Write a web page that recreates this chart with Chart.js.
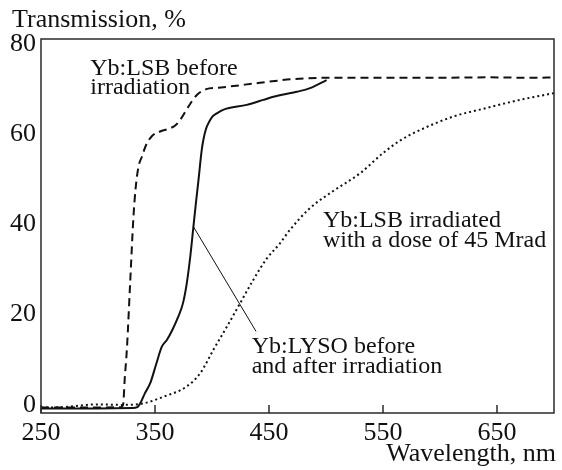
<!DOCTYPE html>
<html>
<head>
<meta charset="utf-8">
<script src="https://cdn.jsdelivr.net/npm/chart.js@4/dist/chart.umd.min.js"></script>
<style>
  body { margin: 0; background: #fff; }
  #chart { display: block; }
</style>
</head>
<body>
<canvas id="chart" width="562" height="470"></canvas>
<script>
// Yb:LSB before irradiation (dashed)
const lsbBeforeX = [250, 280, 300, 320, 322, 323.5, 325.3, 328.2, 331.1, 333, 335.5, 338.5, 342, 347, 354.5, 362, 368, 373, 379, 386.7, 395, 405, 413, 442, 471, 500, 530, 560, 600, 640, 680, 700];
const lsbBeforeY = [-0.6, -0.6, -0.6, -0.5, 0, 6, 12.2, 27, 41.7, 48, 52.8, 55, 57.5, 59.5, 60.6, 61.2, 62, 63.5, 66, 68.7, 70, 70.3, 70.5, 71.4, 72.2, 72.5, 72.5, 72.5, 72.5, 72.6, 72.5, 72.6];

// Yb:LYSO before and after irradiation (solid)
const lysoX = [250, 300, 330, 334.4, 338, 341, 345.8, 351, 356, 360.4, 365, 370.5, 374.5, 377.9, 381, 383.7, 386, 388, 391, 392.4, 394.5, 396.8, 400, 404.2, 409.7, 430.5, 445, 453.8, 474.3, 486, 500.5];
const lysoY = [-0.8, -0.8, -0.7, -0.5, 0.8, 2.5, 4.8, 9, 12.9, 14.4, 16.5, 19.6, 22.5, 27, 33, 39.5, 45, 49.5, 56.5, 58.7, 61, 62.4, 63.8, 64.6, 65.4, 66.5, 67.6, 68.3, 69.4, 70.2, 72];

// Yb:LSB irradiated with 45 Mrad (dotted)
const lsbIrrX = [250, 270, 290, 300, 320, 337, 357.4, 377.9, 389.6, 401.2, 413, 424.6, 436.2, 448, 459.6, 468.4, 485.9, 506.3, 529.7, 550, 565, 582.3, 611.5, 640.7, 669.9, 700];
const lsbIrrY = [-0.6, -0.5, 0, 0.1, 0, 0.2, 1.8, 4.1, 7, 12.2, 17.3, 22.5, 27.7, 32.4, 35.8, 38.8, 43.6, 47.4, 51.3, 55.8, 58.6, 60.9, 63.9, 65.8, 67.6, 69.1];

// leader line from the solid curve to its label
const leaderX = [383.7, 438.6];
const leaderY = [39.5, 16.3];

const xTickValues = [250, 350, 450, 550, 650];
const yTickValues = [0, 20, 40, 60, 80];

const serif = '"Liberation Serif", "Times New Roman", serif';
const ink = "#111";

function pts(xs, ys) {
    return xs.map((x, i) => ({ x: x, y: ys[i] }));
}

const decorPlugin = {
    id: "decor",
    afterDatasetsDraw(chart) {
        const c = chart.ctx;
        const a = chart.chartArea;
        const sx = chart.scales.x;
        const sy = chart.scales.y;
        c.save();
        // frame
        c.strokeStyle = "#2a2a2a";
        c.lineWidth = 1.5;
        c.strokeRect(a.left, a.top, a.right - a.left, a.bottom - a.top);
        // inward x ticks
        xTickValues.forEach(v => {
            const px = sx.getPixelForValue(v);
            c.beginPath();
            c.moveTo(px, a.bottom);
            c.lineTo(px, a.bottom - 8);
            c.stroke();
        });
        // texts
        c.fillStyle = ink;
        c.textBaseline = "alphabetic";
        c.font = "26px " + serif;
        c.textAlign = "left";
        c.fillText("Transmission, %", 12, 27);
        c.textAlign = "right";
        c.fillText("Wavelength, nm", 556, 461);

        c.font = "24px " + serif;
        c.textAlign = "left";
        const notes = [
            ["Yb:LSB before", 293.2, 73.1],
            ["irradiation", 293.2, 68.9],
            ["Yb:LSB irradiated", 497.3, 39.5],
            ["with a dose of 45 Mrad", 497.3, 35.1],
            ["Yb:LYSO before", 434.8, 11.5],
            ["and after irradiation", 434.8, 7.1]
        ];
        notes.forEach(n => {
            c.fillText(n[0], sx.getPixelForValue(n[1]), sy.getPixelForValue(n[2]));
        });
        c.restore();
    }
};

new Chart(document.getElementById("chart").getContext("2d"), {
    type: "line",
    data: {
        datasets: [
            {
                data: pts(lsbBeforeX, lsbBeforeY),
                borderColor: ink, borderWidth: 2, borderDash: [8, 5],
                pointRadius: 0, cubicInterpolationMode: "monotone", fill: false
            },
            {
                data: pts(lysoX, lysoY),
                borderColor: ink, borderWidth: 2,
                pointRadius: 0, cubicInterpolationMode: "monotone", fill: false
            },
            {
                data: pts(lsbIrrX, lsbIrrY),
                borderColor: ink, borderWidth: 2, borderDash: [2, 3],
                pointRadius: 0, cubicInterpolationMode: "monotone", fill: false
            },
            {
                data: pts(leaderX, leaderY),
                borderColor: ink, borderWidth: 1,
                pointRadius: 0, fill: false
            }
        ]
    },
    options: {
        responsive: false,
        animation: false,
        layout: { padding: { top: 39, right: 8, left: 0, bottom: 0 } },
        plugins: { legend: { display: false }, tooltip: { enabled: false } },
        scales: {
            x: {
                type: "linear", min: 250, max: 700,
                grid: { display: false, drawTicks: false },
                border: { display: false },
                afterBuildTicks: s => { s.ticks = xTickValues.map(v => ({ value: v })); },
                afterFit: s => { s.height = 57; },
                ticks: { font: { family: serif, size: 26 }, color: ink, padding: 5, maxRotation: 0, autoSkip: false }
            },
            y: {
                type: "linear", min: -1.8, max: 81.1,
                grid: { display: false, drawTicks: false },
                border: { display: false },
                afterBuildTicks: s => { s.ticks = yTickValues.map(v => ({ value: v })); },
                afterFit: s => { s.width = 41; },
                ticks: { font: { family: serif, size: 26 }, color: ink, padding: 5, autoSkip: false }
            }
        }
    },
    plugins: [decorPlugin]
});
</script>
</body>
</html>
